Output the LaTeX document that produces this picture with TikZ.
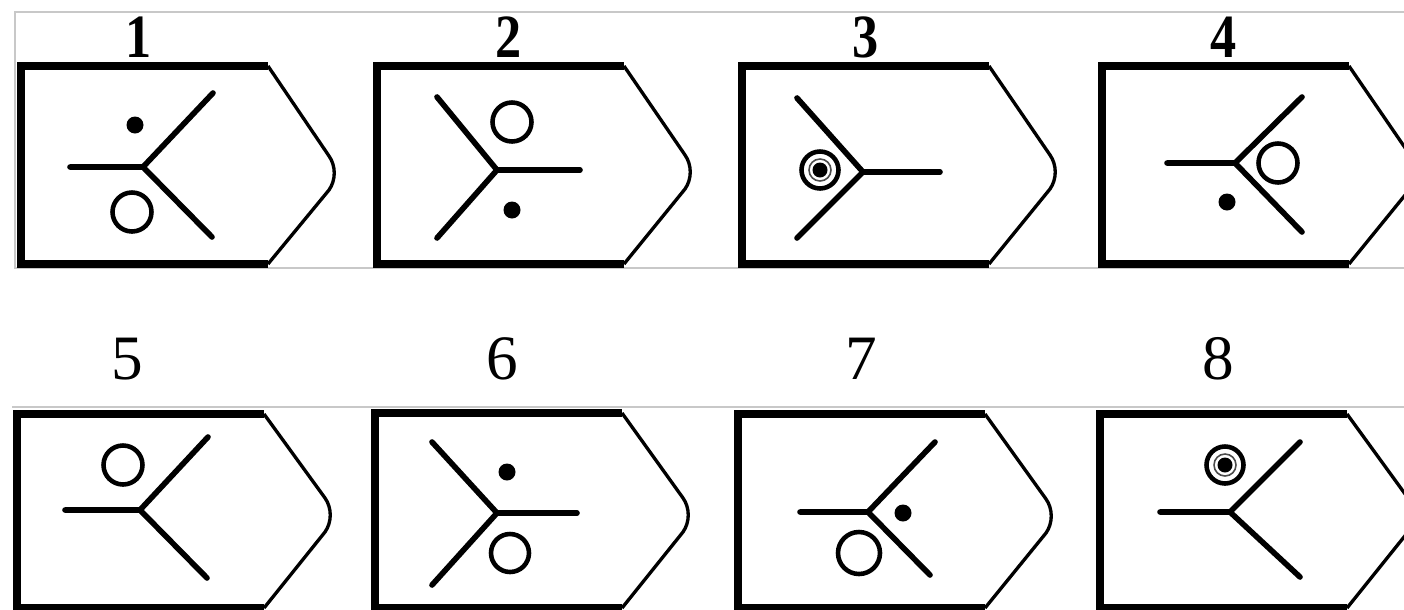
\documentclass[tikz,border=0pt]{standalone}
\usepackage{fontspec}
\setmainfont{Liberation Serif}
\usepackage{xcolor}
\definecolor{rulegray}{RGB}{200,200,200}

\tikzset{
  tagedge/.style={line width=4pt, line join=miter},
  tagnose/.style={line width=1.9pt, line join=round},
  arm/.style={line width=3.2pt, line cap=round},
  ring/.style={line width=2.6pt},
  halo/.style={line width=0.9pt, black!70},
  spot/.style={fill=black},
  toplabel/.style={inner sep=0pt, font=\fontsize{35}{40}\selectfont\bfseries},
  botlabel/.style={inner sep=0pt, font=\fontsize{36}{40}\selectfont}
}

\begin{document}
\begin{tikzpicture}[x=0.02cm, y=-0.02cm]

% Background
\fill[white] (0,0) rectangle (1404,609);
\clip (0,0) rectangle (1404,609);

% Thin rules round the rows
\draw[rulegray, line width=0.6pt] (1404,12) -- (15,12) -- (15,268) -- (1404,268);
\draw[rulegray, line width=0.6pt] (12,407) -- (1404,407);

% Frames
\foreach \x/\y/\h/\t in {
21/66/198/107,
377/66/198/106,
742/66/198/106,
1102/66/198/106,
17/414/194/101,
375/413/195/102,
738/414/194/102,
1100/414/194/101
}{
\draw[tagedge] ({\x+247},\y) -- (\x,\y) -- (\x,{\y+\h}) -- ({\x+247},{\y+\h});
\draw[tagnose] ({\x+247},\y) -- ({\x+308},{\y+\t-17})
  .. controls ({\x+315},{\y+\t-7}) and ({\x+315},{\y+\t+7}) .. ({\x+308},{\y+\t+17})
  -- ({\x+247},{\y+\h});
}

% Labels
\foreach \n/\x in {1/139, 2/509, 3/866, 4/1224}{
\node[toplabel, xscale=0.85] (lab\n) at (\x,37) {\n};
}
\foreach \n/\x in {5/127, 6/502, 7/861, 8/1218}{
\node[botlabel] (lab\n) at (\x,359) {\n};
}

% Panel 1
\coordinate (j1) at (143,167);
\draw[arm] (70,167) -- (j1) -- (213,93);
\draw[arm] (j1) -- (212,237);
\fill[spot] (135,125) circle (8.5);
\draw[ring] (132,212) circle (19.5);

% Panel 2
\coordinate (j2) at (497,170);
\draw[arm] (437,97) -- (j2) -- (437,238);
\draw[arm] (j2) -- (580,170);
\draw[ring] (512,122) circle (19.5);
\fill[spot] (512,210) circle (8.5);

% Panel 3
\coordinate (j3) at (863,172);
\draw[arm] (797,98) -- (j3) -- (797,238);
\draw[arm] (j3) -- (940,172);
\draw[ring] (820,170) circle (18.5);
\draw[halo] (820,170) circle (11);
\fill[spot] (820,170) circle (7.5);

% Panel 4
\coordinate (j4) at (1235,163);
\draw[arm] (1167,163) -- (j4) -- (1302,97);
\draw[arm] (j4) -- (1302,232);
\draw[ring] (1278,163) circle (19.5);
\fill[spot] (1227,202) circle (8.5);

% Panel 5
\coordinate (j5) at (140,510);
\draw[arm] (65,510) -- (j5) -- (208,437);
\draw[arm] (j5) -- (207,578);
\draw[ring] (123,465) circle (19.5);

% Panel 6
\coordinate (j6) at (497,513);
\draw[arm] (432,442) -- (j6) -- (432,585);
\draw[arm] (j6) -- (577,513);
\fill[spot] (507,472) circle (8.5);
\draw[ring] (510,553) circle (19);

% Panel 7
\coordinate (j7) at (868,512);
\draw[arm] (800,512) -- (j7) -- (935,442);
\draw[arm] (j7) -- (930,575);
\fill[spot] (903,513) circle (8.5);
\draw[ring] (859,553) circle (21);

% Panel 8
\coordinate (j8) at (1230,512);
\draw[arm] (1160,512) -- (j8) -- (1300,442);
\draw[arm] (j8) -- (1300,577);
\draw[ring] (1225,465) circle (18.5);
\draw[halo] (1225,465) circle (11);
\fill[spot] (1225,465) circle (7.5);

\end{tikzpicture}
\end{document}
